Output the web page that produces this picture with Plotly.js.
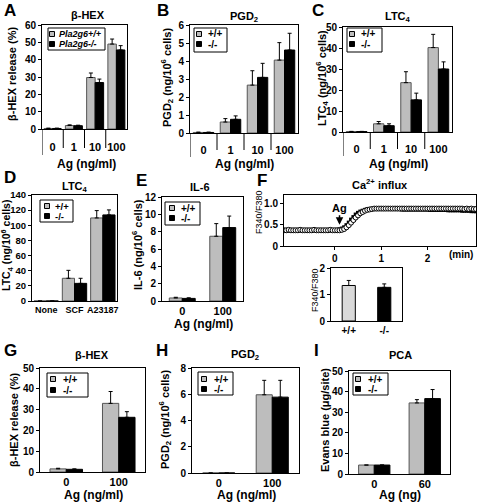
<!DOCTYPE html>
<html><head><meta charset="utf-8">
<script src="https://cdn.plot.ly/plotly-3.0.1.min.js"></script>
<style>html,body{margin:0;padding:0;background:#fff}#chart{width:477px;height:502px}</style>
</head><body><div id="chart"></div>
<script>
// ---------------- DATA ----------------
const agCats4 = ['0', '1', '10', '100'];
const agCats2 = ['0', '100'];
const pcaCats = ['0', '60'];
const ltcCats = ['None', 'SCF', 'A23187'];
const genoCats = ['+/+', '-/-'];
const seriesNamesA = ['Pla2g6+/+', 'Pla2g6-/-'];
const seriesNames = ['+/+', '-/-'];

// A: beta-HEX release (%)
const aWT = [0.3, 2.0, 29.7, 49.0];  const aWTerr = [0.2, 0.4, 2.6, 2.9];
const aKO = [0.3, 1.9, 26.8, 45.6];  const aKOerr = [0.2, 0.3, 2.0, 2.5];
// B: PGD2
const bWT = [0.03, 0.61, 2.66, 4.05]; const bWTerr = [0.02, 0.19, 0.80, 0.97];
const bKO = [0.03, 0.76, 3.09, 4.61]; const bKOerr = [0.02, 0.19, 0.78, 0.93];
// C: LTC4
const cWT = [0.2, 3.9, 23.5, 40.2];  const cWTerr = [0.1, 1.1, 5.2, 6.3];
const cKO = [0.2, 3.0, 15.3, 30.0];  const cKOerr = [0.1, 0.9, 3.2, 3.4];
// D: LTC4 (None / SCF / A23187)
const dWT = [0, 30.0, 109.7];  const dWTerr = [0, 10.5, 9.7];
const dKO = [0, 23.3, 113.7];  const dKOerr = [0, 6.7, 6.6];
// E: IL-6
const eWT = [0.35, 7.47]; const eWTerr = [0.08, 1.46];
const eKO = [0.30, 8.47]; const eKOerr = [0.07, 1.33];
// F: Ca2+ influx time course (min, F340/F380)
const fTime = [-1.10,-1.05,-1.00,-0.95,-0.90,-0.85,-0.80,-0.75,-0.70,-0.65,-0.60,-0.55,-0.50,-0.45,-0.40,-0.35,-0.30,-0.25,-0.20,-0.15,-0.10,-0.05,0.00,0.05,0.10,0.15,0.20,0.25,0.30,0.35,0.40,0.45,0.50,0.55,0.60,0.65,0.70,0.75,0.80,0.85,0.90,0.95,1.00,1.05,1.10,1.15,1.20,1.25,1.30,1.35,1.40,1.45,1.50,1.55,1.60,1.65,1.70,1.75,1.80,1.85,1.90,1.95,2.00,2.05,2.10,2.15,2.20,2.25,2.30,2.35,2.40,2.45,2.50,2.55,2.60,2.65,2.70,2.75,2.80,2.85,2.90,2.95,3.00,3.05];
const fWT = [0.37,0.37,0.38,0.37,0.37,0.37,0.37,0.38,0.37,0.37,0.37,0.37,0.37,0.38,0.37,0.37,0.37,0.37,0.37,0.37,0.38,0.37,0.37,0.37,0.37,
  0.38,0.40,0.44,0.49,0.55,0.61,0.67,0.72,0.77,0.80,0.83,0.85,0.86,0.87,0.88,
  0.88,0.88,0.88,0.88,0.88,0.88,0.88,0.88,0.88,0.88,0.88,0.88,0.88,0.88,0.88,0.88,0.88,0.88,0.88,0.88,0.88,0.88,0.88,0.88,0.88,0.88,0.88,0.88,0.88,0.88,0.88,0.88,0.88,0.88,0.88,0.88,0.88,0.88,0.87,0.88,0.87,0.88,0.87,0.87];
const fKO = [0.37,0.37,0.36,0.37,0.37,0.37,0.37,0.37,0.36,0.37,0.37,0.37,0.37,0.37,0.37,0.36,0.37,0.37,0.37,0.37,0.37,0.37,0.37,
  0.38,0.39,0.41,0.44,0.49,0.55,0.62,0.68,0.74,0.78,0.81,0.83,0.85,0.86,0.86,0.87,0.87,
  0.87,0.87,0.87,0.87,0.87,0.87,0.87,0.87,0.87,0.87,0.87,
  0.86,0.86,0.86,0.86,0.86,0.86,0.86,0.86,0.86,0.86,0.86,0.86,
  0.85,0.85,0.85,0.85,0.85,0.85,0.85,0.85,
  0.84,0.84,0.84,0.84,0.84,0.84,
  0.83,0.83,0.83,0.83,
  0.82,0.82,0.82];
// F lower: peak F340/F380
const fPeak = [1.34, 1.27]; const fPeakErr = [0.19, 0.13];
// G: beta-HEX ; H: PGD2 ; I: PCA
const gWT = [1.5, 33.0]; const gWTerr = [0.3, 5.7];
const gKO = [1.3, 26.3]; const gKOerr = [0.2, 2.7];
const hWT = [0, 5.96];   const hWTerr = [0, 1.10];
const hKO = [0, 5.78];   const hKOerr = [0, 1.28];
const iWT = [4.35, 34.5]; const iWTerr = [0, 1.6];
const iKO = [4.35, 36.6]; const iKOerr = [0, 4.4];

// ---------------- STYLE / LAYOUT ----------------
const W = 477, H = 502;
const FONT = 'Liberation Sans, Arial, sans-serif';
const GRAY = '#bdbdbd', BLACK = '#000000';
const X = p => p / W, Y = p => 1 - p / H;
const tf = s => ({family: FONT, size: s, weight: 'bold', color: '#000'});

const traces = [];
const layout = {
  width: W, height: H, margin: {l: 0, r: 0, t: 0, b: 0},
  paper_bgcolor: '#fff', plot_bgcolor: '#fff', showlegend: false,
  barmode: 'overlay', font: {family: FONT, color: '#000'},
  annotations: [], shapes: []
};

function errBar(arr) {
  return {type: 'data', symmetric: false, array: arr, arrayminus: arr.map(() => 0),
          color: '#000', thickness: 1, width: 2};
}

function setAxes(n, box, xopt, yopt) {
  const xs = n === 1 ? 'xaxis' : 'xaxis' + n, ys = n === 1 ? 'yaxis' : 'yaxis' + n;
  const yid = n === 1 ? 'y' : 'y' + n, xid = n === 1 ? 'x' : 'x' + n;
  layout[xs] = Object.assign({
    domain: [X(box[0]), X(box[1])], anchor: yid, showline: true, mirror: true,
    linecolor: '#000', linewidth: 1, showgrid: false, zeroline: false, ticks: '', tickangle: 0,
    showticklabels: true, ticklabeloverflow: 'allow', tickfont: tf(11), fixedrange: true
  }, xopt);
  layout[ys] = Object.assign({
    domain: [Y(box[3]), Y(box[2])], anchor: xid, showline: true, mirror: true,
    linecolor: '#000', linewidth: 1, showgrid: false, zeroline: false, ticks: 'outside',
    ticklen: 3, tickcolor: '#000', showticklabels: true, ticklabeloverflow: 'allow',
    tickfont: tf(10), fixedrange: true
  }, yopt);
}

function barPair(n, cats, wt, wtErr, ko, koErr, w) {
  const xid = n === 1 ? 'x' : 'x' + n, yid = n === 1 ? 'y' : 'y' + n;
  traces.push({type: 'bar', x: cats, y: wt, xaxis: xid, yaxis: yid, width: w, offset: -w,
    marker: {color: GRAY, line: {color: '#555', width: 1}}, error_y: errBar(wtErr), hoverinfo: 'y'});
  traces.push({type: 'bar', x: cats, y: ko, xaxis: xid, yaxis: yid, width: w, offset: 0,
    marker: {color: BLACK, line: {color: '#000', width: 1}}, error_y: errBar(koErr), hoverinfo: 'y'});
}

function txt(x, y, text, size, opts) {
  layout.annotations.push(Object.assign({xref: 'paper', yref: 'paper', x: X(x), y: Y(y),
    text: text, showarrow: false, xanchor: 'center', yanchor: 'middle',
    font: tf(size)}, opts || {}));
}
function ytitle(x, y, text, size, opts) {
  txt(x, y, text, size, Object.assign({textangle: -90}, opts || {}));
}
function legend(box, names, mx, tx, rows, italic, fs) {
  layout.shapes.push({type: 'rect', xref: 'paper', yref: 'paper', x0: X(box[0]), x1: X(box[1]),
    y0: Y(box[3]), y1: Y(box[2]), line: {color: '#000', width: 1}, fillcolor: '#fff'});
  const cols = [GRAY, BLACK];
  names.forEach((nm, i) => {
    const s = 2.5;
    layout.shapes.push({type: 'rect', xref: 'paper', yref: 'paper', x0: X(mx - s), x1: X(mx + s),
      y0: Y(rows[i] + s), y1: Y(rows[i] - s), line: {color: '#000', width: 1}, fillcolor: cols[i]});
    txt(tx, rows[i], italic ? '<i>' + nm + '</i>' : nm, fs || (italic ? 9 : 10), {xanchor: 'left'});
  });
}
function catLines(n, nCats, inner, outer, axH) {
  const xid = n === 1 ? 'x' : 'x' + n, yd = (n === 1 ? 'y' : 'y' + n) + ' domain';
  layout.shapes.push({type: 'line', xref: xid, yref: yd, x0: -0.5, x1: -0.5, y0: 0, y1: -outer / axH,
    line: {color: '#000', width: 1}});
  for (let k = 1; k < nCats; k++) {
    layout.shapes.push({type: 'line', xref: xid, yref: yd, x0: k - 0.5, x1: k - 0.5, y0: 0, y1: -inner / axH,
      line: {color: '#000', width: 1}});
  }
}

// ---- Panel A ----
const boxA = [42, 127, 25, 129];
setAxes(1, boxA, {type: 'category', range: [-0.5, 3.5], ticklabelstandoff: 8}, {range: [0, 60], dtick: 10});
barPair(1, agCats4, aWT, aWTerr, aKO, aKOerr, 0.4);
catLines(1, 4, 19, 26, boxA[3] - boxA[2]);
// ---- Panel B ----
const boxB = [190, 298, 25, 133];
setAxes(2, boxB, {type: 'category', range: [-0.5, 3.5], ticklabelstandoff: 7}, {range: [0, 6], dtick: 1});
barPair(2, agCats4, bWT, bWTerr, bKO, bKOerr, 0.38);
catLines(2, 4, 17, 24, boxB[3] - boxB[2]);
// ---- Panel C ----
const boxC = [343, 452, 27, 132];
setAxes(3, boxC, {type: 'category', range: [-0.5, 3.5], ticklabelstandoff: 7}, {range: [0, 50], dtick: 10});
barPair(3, agCats4, cWT, cWTerr, cKO, cKOerr, 0.38);
catLines(3, 4, 17, 24, boxC[3] - boxC[2]);
// ---- Panel D ----
const boxD = [32, 117, 195, 301];
setAxes(4, boxD, {type: 'category', range: [-0.5, 2.5], tickfont: tf(9)}, {range: [0, 140], dtick: 20, tickfont: tf(9.5)});
barPair(4, ltcCats, dWT, dWTerr, dKO, dKOerr, 0.43);
// ---- Panel E ----
const boxE = [162, 243, 197, 301];
setAxes(5, boxE, {type: 'category', range: [-0.5, 1.5]}, {range: [0, 12], dtick: 2});
barPair(5, agCats2, eWT, eWTerr, eKO, eKOerr, 0.32);
// ---- Panel F (time course) ----
const boxF = [284, 476, 195, 246];
setAxes(6, boxF, {range: [-1.1, 3.05], tickmode: 'array', tickvals: [0, 1, 2], ticktext: ['0', '1', '2'],
  ticks: 'outside', ticklen: 3, tickcolor: '#000', tickfont: tf(10)},
  {range: [0, 1.2], tickmode: 'array', tickvals: [0, 0.5, 1.0], ticktext: ['0', '0.5', '1.0'], tickfont: tf(10)});
traces.push({type: 'scatter', mode: 'markers', x: fTime, y: fKO, xaxis: 'x6', yaxis: 'y6',
  marker: {symbol: 'square', size: 4, color: '#000'}, hoverinfo: 'y'});
traces.push({type: 'scatter', mode: 'markers', x: fTime, y: fWT, xaxis: 'x6', yaxis: 'y6',
  marker: {symbol: 'circle', size: 5, color: '#fff', line: {color: '#000', width: 1}}, hoverinfo: 'y'});
layout.annotations.push({xref: 'x6', yref: 'y6', x: 0.1, y: 0.5, text: 'Ag', showarrow: true,
  arrowhead: 2, arrowsize: 1, arrowwidth: 1.5, arrowcolor: '#000', ax: 0, ay: -17, font: tf(11)});
// ---- Panel F (bar) ----
const boxF2 = [331, 402, 268, 321];
setAxes(7, boxF2, {type: 'category', range: [-0.5, 1.5], tickfont: tf(10)},
  {range: [0, 2], tickmode: 'array', tickvals: [0, 1, 2], ticktext: ['0', '1', '2'], tickfont: tf(10)});
traces.push({type: 'bar', x: genoCats, y: fPeak, xaxis: 'x7', yaxis: 'y7', width: 0.37,
  marker: {color: ['#d9d9d9', '#000'], line: {color: '#000', width: 1}}, error_y: errBar(fPeakErr), hoverinfo: 'y'});
// ---- Panel G ----
const boxG = [40, 145, 368, 472];
setAxes(8, boxG, {type: 'category', range: [-0.5, 1.5]}, {range: [0, 50], dtick: 10});
barPair(8, agCats2, gWT, gWTerr, gKO, gKOerr, 0.31);
// ---- Panel H ----
const boxH = [192, 299, 368, 473];
setAxes(9, boxH, {type: 'category', range: [-0.5, 1.5]}, {range: [0, 8], dtick: 2});
barPair(9, agCats2, hWT, hWTerr, hKO, hKOerr, 0.3);
// ---- Panel I ----
const boxI = [349, 450, 371, 474];
setAxes(10, boxI, {type: 'category', range: [-0.5, 1.5]}, {range: [0, 50], dtick: 10});
barPair(10, pcaCats, iWT, iWTerr, iKO, iKOerr, 0.31);

// ---- Titles, letters, axis titles ----
const LET = 17, TT = 11, AX = 12;
txt(10, 11, 'A', LET); txt(163, 11, 'B', LET); txt(318, 11, 'C', LET);
txt(10, 177, 'D', LET); txt(141, 180, 'E', LET); txt(262, 180, 'F', LET);
txt(10, 350, 'G', LET); txt(162, 350, 'H', LET); txt(316, 350, 'I', LET);

txt(88, 15, 'β-HEX', TT); txt(244, 17, 'PGD<sub>2</sub>', TT); txt(398, 17, 'LTC<sub>4</sub>', TT);
txt(75, 187, 'LTC<sub>4</sub>', TT); txt(200, 187, 'IL-6', TT); txt(380, 184, 'Ca<sup>2+</sup> influx', TT);
txt(92, 355, 'β-HEX', TT); txt(245, 355, 'PGD<sub>2</sub>', TT); txt(400, 355, 'PCA', TT);

txt(86, 164, 'Ag (ng/ml)', AX); txt(245, 164, 'Ag (ng/ml)', AX); txt(398, 164, 'Ag (ng/ml)', AX);
txt(203, 324, 'Ag (ng/ml)', AX);
txt(93, 495, 'Ag (ng/ml)', AX); txt(246, 495, 'Ag (ng/ml)', AX); txt(400, 495, 'Ag (ng)', AX);
txt(475, 254, '(min)', 10, {xanchor: 'right'});

ytitle(12, 74, 'β-HEX release (%)', TT);
ytitle(167, 78, 'PGD<sub>2</sub> (ng/10<sup>6</sup> cells)', TT);
ytitle(322, 78, 'LTC<sub>4</sub> (ng/10<sup>6</sup> cells)', TT);
ytitle(7, 246, 'LTC<sub>4</sub> (ng/10<sup>6</sup> cells)', 10.5);
ytitle(137, 245, 'IL-6 (ng/10<sup>6</sup> cells)', TT);
ytitle(259, 212, 'F340/F380', 9, {font: {family: FONT, size: 9, color: '#000'}});
ytitle(315, 290, 'F340/F380', 9, {font: {family: FONT, size: 9, color: '#000'}});
ytitle(14, 420, 'β-HEX release (%)', TT);
ytitle(165, 420, 'PGD<sub>2</sub> (ng/10<sup>6</sup> cells)', TT);
ytitle(325, 420, 'Evans blue (μg/site)', TT);

// ---- Legends ----
legend([48, 105, 28, 50], seriesNamesA, 52, 57, [34, 44], true);
legend([194, 227, 28, 52], seriesNames, 199, 206, [34, 44]);
legend([347, 382, 28, 52], seriesNames, 352, 359, [34, 44]);
legend([40, 73, 200, 222], seriesNames, 47, 53, [206, 216], false, 9.5);
legend([165, 200, 202, 225], seriesNames, 172, 179, [208, 218]);
legend([47, 88, 373, 397], seriesNames, 53, 61, [379, 390]);
legend([198, 233, 372, 395], seriesNames, 204, 212, [379, 389]);
legend([353, 388, 373, 395], seriesNames, 358, 366, [379, 389]);

Plotly.newPlot('chart', traces, layout, {displayModeBar: false, staticPlot: true});
</script></body></html>
